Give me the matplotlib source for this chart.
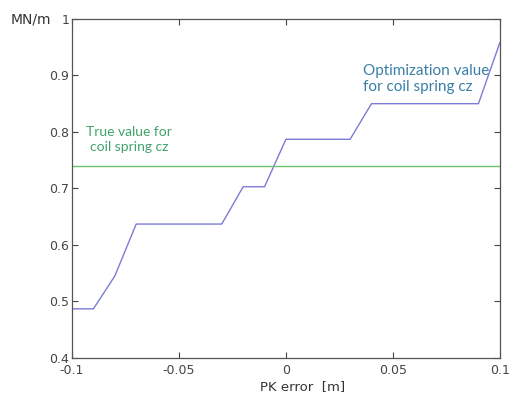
import matplotlib.pyplot as plt
import numpy as np

# PK error [m] vs coil spring stiffness [MN/m]
pk_error = [-0.1, -0.09, -0.08, -0.07, -0.03, -0.02, -0.01, 0.0, 0.03, 0.04, 0.09, 0.1]
cz_opt = [0.487, 0.487, 0.545, 0.637, 0.637, 0.703, 0.703, 0.787, 0.787, 0.85, 0.85, 0.958]
cz_true = 0.74

x_ticks = [-0.1, -0.05, 0, 0.05, 0.1]
x_labels = ['-0.1', '-0.05', '0', '0.05', '0.1']
y_ticks = [0.4, 0.5, 0.6, 0.7, 0.8, 0.9, 1.0]
y_labels = ['0.4', '0.5', '0.6', '0.7', '0.8', '0.9', '1']

plt.rcParams['font.family'] = ['DejaVu Sans']

fig = plt.figure(figsize=(5.09, 3.94), dpi=100)
ax = fig.add_axes([0.1415, 0.0914, 0.8405, 0.8606])

ax.plot(pk_error, cz_opt, color='#7b7bd6', lw=1.0)
ax.axhline(cz_true, color='#6cc36c', lw=1.0)

ax.set_xlim(-0.1, 0.1)
ax.set_ylim(0.4, 1.0)
ax.set_xticks(x_ticks)
ax.set_xticklabels(x_labels)
ax.set_yticks(y_ticks)
ax.set_yticklabels(y_labels)
ax.tick_params(direction='in', top=True, right=True, length=4, width=0.8,
               colors='#444444', labelsize=9)
ax.tick_params(axis='x', pad=4)
ax.tick_params(axis='y', pad=2)
for s in ax.spines.values():
    s.set_color('#555555')
    s.set_linewidth(0.9)

ax.set_xlabel('PK error  [m]', fontsize=9.5, color='#333333')
ax.xaxis.set_label_coords(0.54, -0.065)
fig.text(0.02, 0.94, 'MN/m', fontsize=10, color='#333333')

ax.text(-0.0734, 0.787, 'True value for\ncoil spring cz', color='#3fa46a',
        fontsize=10, family=['Lato', 'DejaVu Sans'], ha='center', va='center',
        linespacing=1.3)
ax.text(0.0362, 0.893, 'Optimization value\nfor coil spring cz', color='#3a7fa8',
        fontsize=11, family=['Lato', 'DejaVu Sans'], ha='left', va='center',
        linespacing=1.2)

fig.savefig('out.png', dpi=100)
